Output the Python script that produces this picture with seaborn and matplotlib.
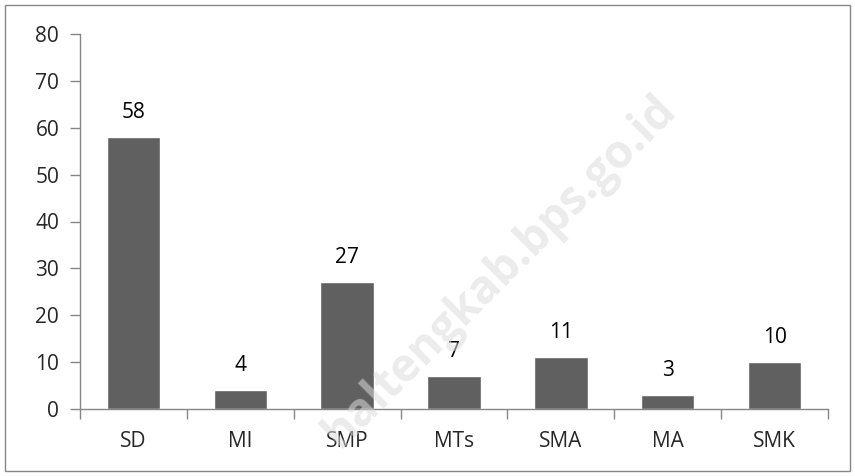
import numpy as np
import matplotlib
matplotlib.use('Agg')
import matplotlib.pyplot as plt
import pandas as pd
import seaborn as sns
from matplotlib.patches import Rectangle

# data
jenjang = ['SD', 'MI', 'SMP', 'MTs', 'SMA', 'MA', 'SMK']
jumlah = [58, 4, 27, 7, 11, 3, 10]
y_ticks = [0, 10, 20, 30, 40, 50, 60, 70, 80]

df = pd.DataFrame({'jenjang': jenjang, 'jumlah': jumlah})

sns.set_style('white')
plt.rcParams['font.family'] = ['Open Sans', 'DejaVu Sans']

fig = plt.figure(figsize=(8.55, 4.76), dpi=100)
ax = fig.add_axes([80 / 855, 1 - 409 / 476, (828 - 80) / 855, (409 - 34) / 476])

sns.barplot(data=df, x='jenjang', y='jumlah', color='#606060', saturation=1,
            width=0.5, ax=ax)

for i, v in enumerate(jumlah):
    ax.text(i, v + 3, str(v), ha='center', va='bottom', fontsize=15, color='black')

ax.set_ylim(0, 80)
ax.set_xlim(-0.5, len(jenjang) - 0.5)
ax.set_yticks(y_ticks)
ax.set_xlabel('')
ax.set_ylabel('')

# category separators as ticks
ax.set_xticks(np.arange(-0.5, len(jenjang), 1), minor=True)
ax.tick_params(axis='x', which='minor', bottom=True, length=7, width=1, color='#868686', direction='out')
ax.tick_params(axis='x', which='major', bottom=True, length=0, pad=16, labelsize=15)
ax.tick_params(axis='y', left=True, length=7, width=1, color='#868686', direction='out', pad=8, labelsize=15)

for s in ['top', 'right']:
    ax.spines[s].set_visible(False)
for s in ['left', 'bottom']:
    ax.spines[s].set_color('#868686')
    ax.spines[s].set_linewidth(1)

# watermark
fig.text(0.585, 0.43, 'haltengkab.bps.go.id', rotation=45, fontsize=33, fontweight='bold',
         color='#dcdcdc', alpha=0.55, ha='center', va='center', zorder=0)

# outer border
fig.patches.append(Rectangle((5 / 855, 5 / 476), 845 / 855, 466 / 476, transform=fig.transFigure,
                             fill=False, edgecolor='#868686', linewidth=1))

fig.savefig('out.png', dpi=100)
